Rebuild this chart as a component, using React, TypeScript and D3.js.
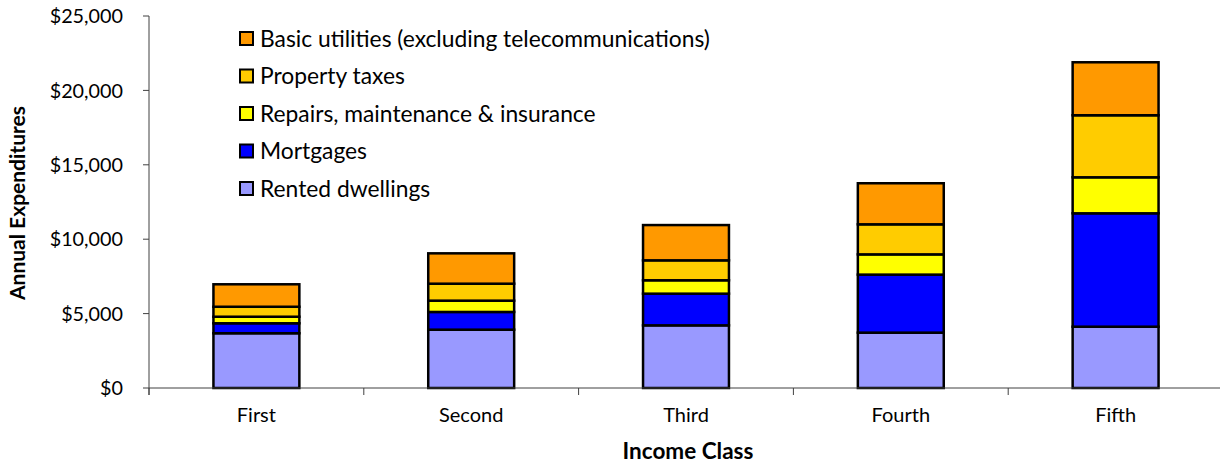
import React from "react";
import * as d3 from "d3";

const categories = ["First", "Second", "Third", "Fourth", "Fifth"];
const seriesNames = [
  "Rented dwellings",
  "Mortgages",
  "Repairs, maintenance & insurance",
  "Property taxes",
  "Basic utilities (excluding telecommunications)",
];
const seriesColors = ["#9999FF", "#0000FF", "#FFFF00", "#FFCC00", "#FF9900"];
const rented = [3680, 3920, 4210, 3720, 4120];
const mortgages = [670, 1190, 2130, 3900, 7620];
const repairs = [440, 760, 900, 1360, 2420];
const taxes = [670, 1140, 1340, 2020, 4170];
const utilities = [1510, 2040, 2370, 2760, 3560];
const yTicks = [0, 5000, 10000, 15000, 20000, 25000];

const W = 1220;
const H = 463;
const margin = { left: 149, right: -3, top: 16, bottom: 75 };
const FONT = "Lato, 'Open Sans', sans-serif";

export default function App() {
  const seriesValues = [rented, mortgages, repairs, taxes, utilities];
  const rows = categories.map((c, i) => {
    const o: any = { cat: c };
    seriesNames.forEach((s, k) => (o[s] = seriesValues[k][i]));
    return o;
  });
  const stack = d3.stack().keys(seriesNames)(rows as any);

  const x = d3
    .scaleBand()
    .domain(categories)
    .range([margin.left, W - margin.right])
    .paddingInner(0.6)
    .paddingOuter(0.3);
  const y = d3
    .scaleLinear()
    .domain([0, 25000])
    .range([H - margin.bottom, margin.top]);
  const fmt = (v: number) => "$" + d3.format(",")(v);
  const y0 = y(0);
  const boundaries = d3
    .range(categories.length + 1)
    .map((i) => margin.left + i * ((W - margin.right - margin.left) / categories.length));

  const legendOrder = [4, 3, 2, 1, 0];

  return (
    <svg
      width={W}
      height={H}
      style={{ position: "absolute", left: 0, top: 0, background: "#fff" }}
      fontFamily={FONT}
    >
      {stack.map((layer, k) => (
        <g key={k}>
          {layer.map((d, i) => (
            <rect
              key={i}
              x={x(categories[i])!}
              width={x.bandwidth()}
              y={y(d[1])}
              height={y(d[0]) - y(d[1])}
              fill={seriesColors[k]}
              stroke="#000"
              strokeWidth={2.5}
            />
          ))}
        </g>
      ))}
      <line x1={margin.left} x2={margin.left} y1={margin.top} y2={y0 + 7} stroke="#404040" strokeWidth={1} />
      {yTicks.map((t) => (
        <g key={t}>
          <line x1={margin.left - 6} x2={margin.left} y1={y(t)} y2={y(t)} stroke="#404040" />
          <text x={123} y={y(t)} dy="0.36em" textAnchor="end" fontSize={19.8} fill="#000">
            {fmt(t)}
          </text>
        </g>
      ))}
      <line x1={margin.left} x2={W} y1={y0} y2={y0} stroke="#404040" strokeWidth={1} />
      {boundaries.map((b, i) => (
        <line key={i} x1={b} x2={b} y1={y0} y2={y0 + 7} stroke="#404040" />
      ))}
      {categories.map((c) => (
        <text key={c} x={x(c)! + x.bandwidth() / 2} y={422} textAnchor="middle" fontSize={20} fill="#000">
          {c}
        </text>
      ))}
      <text x={688} y={459} textAnchor="middle" fontSize={22.5} fontWeight="bold" fill="#000">
        Income Class
      </text>
      <text
        transform={`translate(25,203) rotate(-90)`}
        textAnchor="middle"
        fontSize={21}
        fontWeight="bold"
        fill="#000"
      >
        Annual Expenditures
      </text>
      {legendOrder.map((k, j) => {
        const cy = 38.5 + j * 37.5;
        return (
          <g key={k}>
            <rect x={240} y={cy - 6.5} width={13} height={13} fill={seriesColors[k]} stroke="#000" strokeWidth={2} />
            <text x={260} y={cy} dy="0.36em" fontSize={22.8} fill="#000">
              {seriesNames[k]}
            </text>
          </g>
        );
      })}
    </svg>
  );
}
